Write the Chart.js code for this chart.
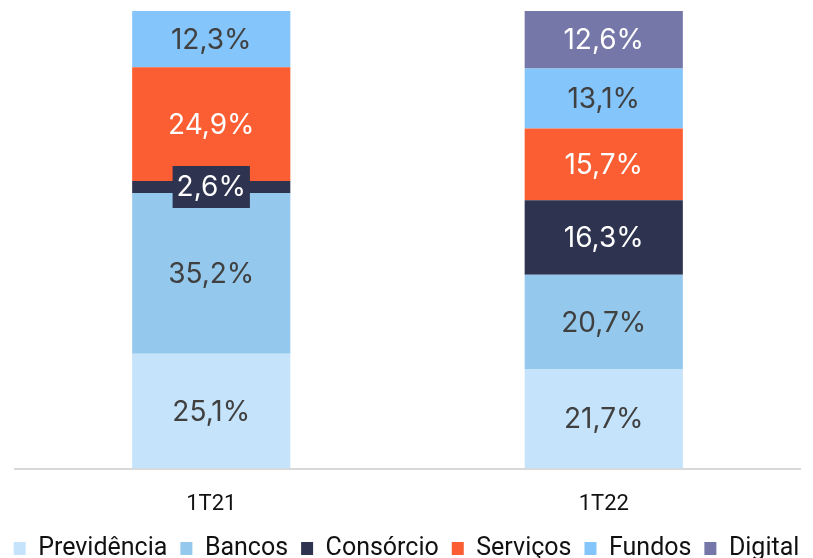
<!DOCTYPE html>
<html><head><meta charset="utf-8">
<script src="https://cdn.jsdelivr.net/npm/chart.js@4"></script>
<style>html,body{margin:0;padding:0;background:#fff}#wrap{width:813px;height:558px}</style>
</head><body><div id="wrap"><canvas id="c" width="813" height="558"></canvas></div>
<script>
const categories = ['1T21', '1T22'];
const seriesNames = ['Previdência', 'Bancos', 'Consórcio', 'Serviços', 'Fundos', 'Digital'];
const previdencia = [25.1, 21.7];
const bancos = [35.2, 20.7];
const consorcio = [2.6, 16.3];
const servicos = [24.9, 15.7];
const fundos = [12.3, 13.1];
const digital = [null, 12.6];
const colors = ['#C5E3FA', '#94C8EC', '#2E3350', '#FB5E32', '#84C5FB', '#7577A8'];
const labelColors = ['#404040', '#404040', '#ffffff', '#ffffff', '#404040', '#ffffff'];
const values = [previdencia, bancos, consorcio, servicos, fundos, digital];
const fontFam = 'Roboto, "Noto Sans", sans-serif';

const labelPlugin = {
  id: 'segLabels',
  afterDatasetsDraw(chart) {
    const ctx = chart.ctx;
    ctx.save();
    ctx.font = '400 28px Inter, "Open Sans", sans-serif';
    ctx.textAlign = 'center';
    ctx.textBaseline = 'middle';
    chart.data.datasets.forEach((ds, i) => {
      const meta = chart.getDatasetMeta(i);
      meta.data.forEach((bar, j) => {
        const v = ds.data[j];
        if (v == null) return;
        const txt = v.toFixed(1).replace('.', ',') + '%';
        const cy = (bar.y + bar.base) / 2;
        const h = Math.abs(bar.base - bar.y);
        if (h < 30) {
          const w = ctx.measureText(txt).width + 8;
          ctx.fillStyle = colors[i];
          ctx.fillRect(bar.x - w / 2, cy - 21, w, 42);
        }
        ctx.fillStyle = labelColors[i];
        ctx.fillText(txt, bar.x, cy + 1);
      });
    });
    ctx.restore();
  }
};

const legendAdjust = {
  id: 'legendAdjust',
  beforeInit(chart) {
    const L = chart.legend;
    if (!L || L._patched) return;
    L._patched = true;
    const fit = L.fit;
    L.fit = function () { fit.call(this); this.height -= 1; };
    const draw = L.draw;
    L.draw = function () {
      this.ctx.save();
      this.ctx.translate(0, -18);
      draw.apply(this, arguments);
      this.ctx.restore();
    };
  }
};

const hiddenSide = (w, pos) => ({
  position: pos,
  display: true,
  stacked: true,
  grid: { display: false, drawTicks: false },
  border: { display: false },
  ticks: { display: false },
  afterFit(scale) { scale.width = w; }
});

new Chart(document.getElementById('c'), {
  type: 'bar',
  data: {
    labels: categories,
    datasets: seriesNames.map((n, i) => ({
      label: n,
      data: values[i],
      backgroundColor: colors[i],
      borderWidth: 0,
      categoryPercentage: 1,
      barPercentage: 0.403
    }))
  },
  options: {
    responsive: false,
    animation: false,
    layout: { padding: { top: 11, left: 0, right: 0, bottom: -30 } },
    plugins: {
      legend: {
        position: 'bottom',
        labels: {
          boxWidth: 12, boxHeight: 13, padding: 13,
          color: '#111',
          font: { family: fontFam, size: 25 }
        }
      },
      tooltip: { enabled: false }
    },
    scales: {
      x: {
        stacked: true,
        grid: { display: false, drawTicks: false },
        border: { display: true, color: '#D9D9D9', width: 2 },
        ticks: { color: '#111', padding: 23, font: { family: fontFam, size: 22 } }
      },
      y: Object.assign(hiddenSide(15, 'left'), { min: 0, max: 100.1 }),
      y2: hiddenSide(13, 'right')
    }
  },
  plugins: [labelPlugin, legendAdjust]
});
</script></body></html>
